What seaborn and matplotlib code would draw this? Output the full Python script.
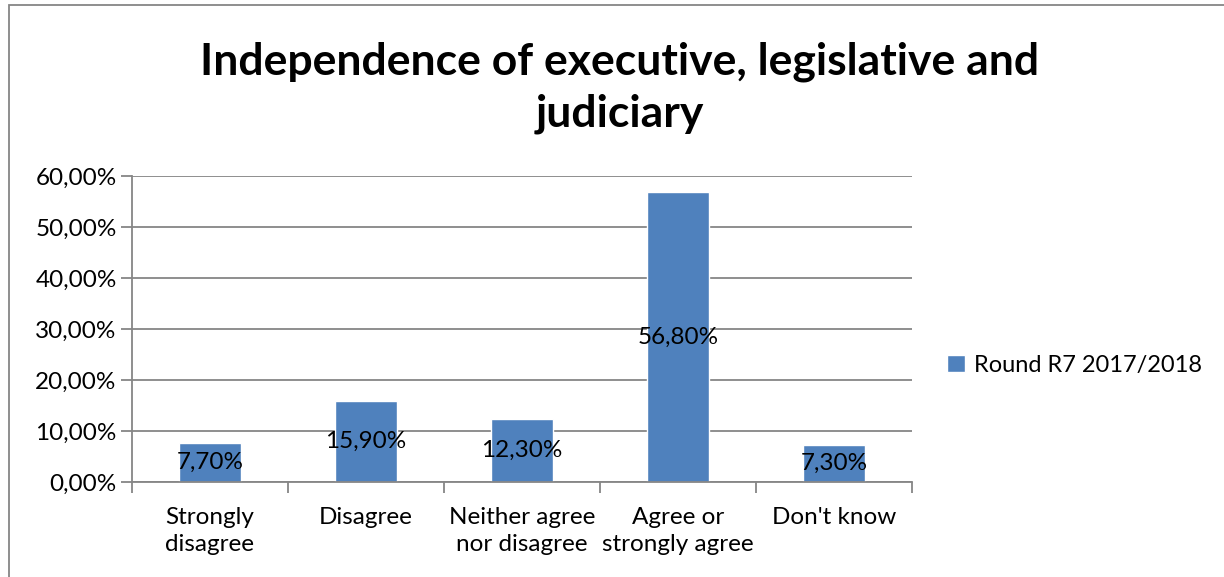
import matplotlib
matplotlib.use("Agg")
import matplotlib.pyplot as plt
import seaborn as sns
import pandas as pd
from matplotlib.patches import Rectangle
from matplotlib.ticker import FuncFormatter, MultipleLocator

categories = ["Strongly\ndisagree", "Disagree", "Neither agree\nnor disagree",
              "Agree or\nstrongly agree", "Don't know"]
values = [7.70, 15.90, 12.30, 56.80, 7.30]
series_name = "Round R7 2017/2018"
title = "Independence of executive, legislative and\njudiciary"

df = pd.DataFrame({"category": categories, "value": values, "series": series_name})

sns.set_style("white")
plt.rcParams["font.family"] = ["Lato", "DejaVu Sans"]
plt.rcParams["text.color"] = "black"

FS = 17.5

fig = plt.figure(figsize=(12.24, 5.77), dpi=100)
ax = fig.add_axes([132/1224, 1-482/577, (912-132)/1224, (482-176)/577])

sns.barplot(data=df, x="category", y="value", hue="series", palette=["#4F81BD"],
            width=0.4, ax=ax, legend=True, saturation=1)

ax.set_ylim(0, 60)
ax.set_xlim(-0.5, 4.5)
ax.yaxis.set_major_locator(MultipleLocator(10))
ax.yaxis.set_major_formatter(FuncFormatter(lambda v, p: f"{v:.2f}%".replace(".", ",")))
ax.grid(axis="y", color="#868686", linewidth=1.3)
ax.set_axisbelow(True)
for s in ["top", "right"]:
    ax.spines[s].set_visible(False)
ax.spines["left"].set_color("#868686")
ax.spines["left"].set_linewidth(1.3)
ax.spines["bottom"].set_color("#868686")
ax.spines["bottom"].set_linewidth(1.3)

ax.tick_params(axis="y", which="major", length=8, width=1.3, color="#868686",
               labelsize=FS, labelcolor="black", pad=3, left=True)
ax.set_xticks([0, 1, 2, 3, 4])
ax.set_xticklabels(categories, fontsize=FS, linespacing=1.38, color="black")
ax.tick_params(axis="x", which="major", length=0, pad=18)
ax.set_xticks([-0.5, 0.5, 1.5, 2.5, 3.5, 4.5], minor=True)
ax.tick_params(axis="x", which="minor", length=8, width=1.3, color="#868686", bottom=True)
ax.set_xlabel("")
ax.set_ylabel("")

for cont in ax.containers:
    labels = [f"{v:.2f}%".replace(".", ",") for v in values]
    ax.bar_label(cont, labels=labels, label_type="center", fontsize=FS, color="black")

leg = ax.legend(loc="center left", bbox_to_anchor=(1.018, 0.382), frameon=False,
                fontsize=17, handlelength=0.75, handleheight=0.75, handletextpad=0.4)
for t in leg.get_texts():
    t.set_color("black")

fig.text(620/1224, 1-88/577, title, ha="center", va="center", fontsize=32,
         fontweight="bold", linespacing=1.36, color="black")

fig.patches.append(Rectangle((9/1224, -0.01), 1.2, 1-5/577 + 0.01, transform=fig.transFigure,
                             fill=False, edgecolor="#868686", linewidth=1.3))

fig.savefig("out.png", dpi=100)
